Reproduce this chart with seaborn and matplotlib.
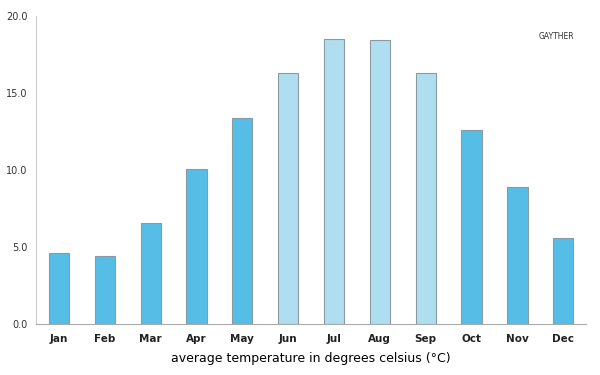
import matplotlib
matplotlib.use("Agg")
import matplotlib.pyplot as plt
import seaborn as sns
import pandas as pd

months = ['Jan', 'Feb', 'Mar', 'Apr', 'May', 'Jun', 'Jul', 'Aug', 'Sep', 'Oct', 'Nov', 'Dec']
temps = [4.6, 4.4, 6.6, 10.1, 13.4, 16.3, 18.5, 18.4, 16.3, 12.6, 8.9, 5.6]
season = ['cool', 'cool', 'cool', 'cool', 'cool', 'summer', 'summer', 'summer', 'summer', 'cool', 'cool', 'cool']

df = pd.DataFrame({'month': months, 'temp': temps, 'season': season})

sns.set_style('white')
plt.rcParams['font.family'] = ['DejaVu Sans']

fig = plt.figure(figsize=(6, 3.75), dpi=100)
ax = fig.add_axes([0.06, 0.135, 0.917, 0.823])

sns.barplot(data=df, x='month', y='temp', hue='season', dodge=False,
            palette={'cool': '#56bde6', 'summer': '#b0def1'}, saturation=1,
            edgecolor='#8a9aa3', linewidth=0.8, width=0.44, legend=False, ax=ax)

ax.set_ylim(0, 20)
ax.set_yticks([0, 5, 10, 15, 20])
ax.set_yticklabels(['0.0', '5.0', '10.0', '15.0', '20.0'], fontsize=7, color='#333333')
ax.set_xticks(range(len(months)))
ax.set_xticklabels(months, fontsize=7.5, fontweight='bold', color='#222222')
ax.tick_params(axis='x', length=0, pad=7)
ax.tick_params(axis='y', length=0, pad=6)
ax.set_xlim(-0.5, 11.5)
ax.set_xlabel('average temperature in degrees celsius (°C)', fontsize=9, labelpad=6, color='black')
ax.set_ylabel('')
for s in ['top', 'right']:
    ax.spines[s].set_visible(False)
ax.spines['left'].set_color('#cccccc')
ax.spines['bottom'].set_color('#aaaaaa')

fig.text(0.927, 0.895, 'GAYTHER', fontsize=5.5, color='#333333', ha='center')

fig.savefig('out.png', dpi=100)
